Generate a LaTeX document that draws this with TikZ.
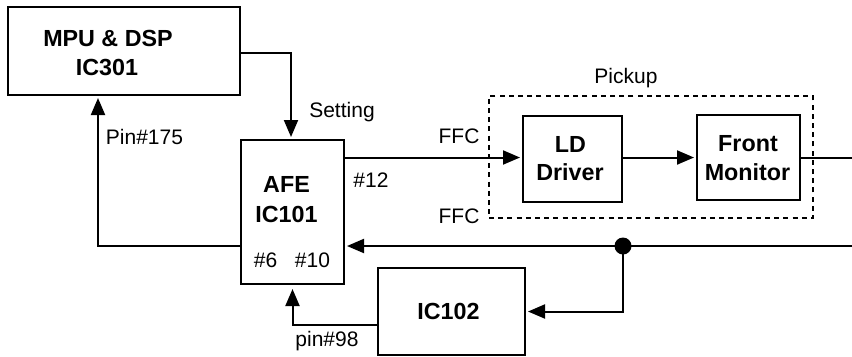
\documentclass[tikz,border=0pt]{standalone}
\usepackage{fontspec}
\setmainfont{Liberation Sans}
\usetikzlibrary{arrows.meta,calc}
\begin{document}
\begin{tikzpicture}[x=1bp,y=-1bp,
 box/.style={draw,line width=2bp,inner sep=0pt},
 bl/.style={font=\fontsize{23.3bp}{28bp}\selectfont\bfseries,anchor=base,inner sep=0pt},
 lbl/.style={font=\fontsize{21bp}{25bp}\selectfont,anchor=base,inner sep=0pt},
 wire/.style={line width=2bp},
 arr/.style={wire,-{Triangle[length=17bp,width=14bp]},shorten >=2bp}]
\useasboundingbox (0,0) rectangle (852,356);
% boxes
\node[box,minimum width=232bp,minimum height=88bp] (mpu) at (124,51) {};
\node[box,minimum width=103bp,minimum height=144bp] (afe) at (292.5,212) {};
\node[box,minimum width=99bp,minimum height=86bp] (ld) at (572.5,159) {};
\node[box,minimum width=103bp,minimum height=85bp] (fm) at (748.5,157.5) {};
\node[box,minimum width=147bp,minimum height=87bp] (ic) at (451.5,311.5) {};
\node[draw,line width=2.5bp,dash pattern=on 5bp off 4.2bp,inner sep=0pt,minimum width=324bp,minimum height=122bp] (pk) at (651,157) {};
% box texts
\node[bl] (t1) at (108,46) {MPU \& DSP};
\node[bl] (t2) at (107,75) {IC301};
\node[bl] (t3) at (286.5,192) {AFE};
\node[bl] (t4) at (286.5,222) {IC101};
\node[lbl] (t5) at (265.5,267) {\#6};
\node[lbl] (t6) at (312.5,267) {\#10};
\node[bl] (t7) at (570.5,152) {LD};
\node[bl] (t8) at (570,180) {Driver};
\node[bl] (t9) at (748,151) {Front};
\node[bl] (t10) at (747.5,180) {Monitor};
\node[bl] (t11) at (448.5,319) {IC102};
% labels
\node[lbl] (l1) at (342,117) {Setting};
\node[lbl] (l2) at (144.5,144) {Pin\#175};
\node[lbl] (l3) at (371,187) {\#12};
\node[lbl] (l4) at (459,143) {FFC};
\node[lbl] (l5) at (459,223) {FFC};
\node[lbl] (l6) at (626,83) {Pickup};
\node[lbl] (l7) at (327,346) {pin\#98};
% connectors
\coordinate (r1) at (852,157.5);
\coordinate (r2) at (852,246);
\coordinate (jn) at (623,246);
\draw[arr] ($(mpu.east)+(0,2)$) -| ($(afe.north)+(-1.5,0)$);
\draw[arr] (afe.east |- fm.west) -- (ld.west |- fm.west);
\draw[arr] (ld.east |- fm.west) -- (fm.west);
\draw[wire] (fm.east) -- (r1);
\draw[arr] (r2) -- (afe.east |- r2);
\fill (jn) circle (8.5);
\draw[arr] (jn) |- (ic.east);
\draw[arr] ($(ic.west)+(0,13.5)$) -| ($(afe.south)+(0,2)$);
\draw[arr] (afe.west |- r2) -| ($(mpu.south)+(-26,0)$);
\end{tikzpicture}
\end{document}
